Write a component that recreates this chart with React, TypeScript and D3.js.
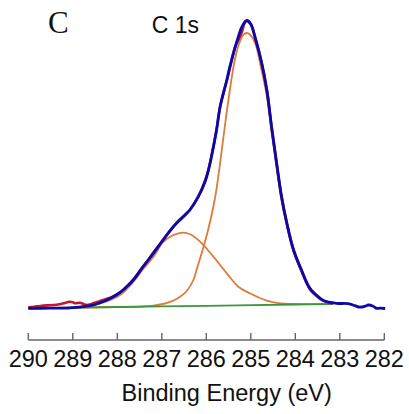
import React from "react";
import * as d3 from "d3";

// Binding energy (eV) / intensity (a.u.) readings
const ticks = [290, 289, 288, 287, 286, 285, 284, 283, 282];

const dataEnergy = [290.0, 289.87, 289.73, 289.58, 289.43, 289.3, 289.21, 289.07, 289.0, 288.95, 288.84, 288.76, 288.69, 288.58, 288.43, 288.28, 288.13, 287.94, 287.83, 287.64, 287.42, 287.3, 287.19, 287.05, 286.97, 286.85, 286.74, 286.62, 286.55, 286.45, 286.37, 286.18, 286.03, 285.95, 285.88, 285.77, 285.69, 285.54, 285.47, 285.36, 285.28, 285.2, 285.14, 285.09, 285.0, 284.9, 284.76, 284.64, 284.53, 284.42, 284.31, 284.19, 284.04, 283.86, 283.67, 283.55, 283.44, 283.3, 283.15];
const dataIntensity = [2.7, 3.2, 4.0, 4.6, 5.0, 5.8, 6.7, 8.3, 7.8, 6.7, 7.3, 6.0, 5.0, 6.0, 8.3, 10.5, 12.8, 17.5, 21.8, 30.5, 43.5, 50.5, 57.5, 65.5, 70.5, 77.5, 83.5, 89.5, 92.5, 96.5, 100, 113.3, 129, 141, 155, 180, 203, 229, 242, 262, 270, 278, 287, 289, 285.5, 272, 248, 220.5, 182, 147, 114, 87, 60.5, 39, 20.5, 15, 11, 8, 6.5];

const fitEnergy = [290.0, 289.51, 289.06, 288.69, 288.5, 288.31, 288.12, 287.94, 287.83, 287.64, 287.42, 287.19, 286.97, 286.74, 286.55, 286.37, 286.18, 286.03, 285.95, 285.88, 285.77, 285.69, 285.54, 285.47, 285.28, 285.19, 285.09, 285.0, 284.9, 284.76, 284.64, 284.53, 284.42, 284.31, 284.19, 284.04, 283.86, 283.67, 283.44, 283.37, 283.07, 282.81, 282.66, 282.55, 282.43, 282.36, 282.25, 282.17, 282.1, 281.98];
const fitIntensity = [1.7, 1.8, 2.2, 3.8, 5.5, 8.5, 12.5, 17.5, 21.5, 30, 43.3, 56.7, 70, 83.3, 91.7, 100, 113.3, 128, 140, 154, 180, 203.3, 230, 243.3, 273.3, 284, 289.5, 286, 272, 248, 220, 182, 146.7, 113.3, 86.7, 60, 40, 21.7, 11.7, 9.5, 6.7, 6.3, 4.3, 2.8, 3.8, 5.0, 3.8, 1.6, 1.8, 1.5];

const peakMainEnergy = [290.0, 288.39, 287.49, 287.19, 286.97, 286.8, 286.67, 286.55, 286.44, 286.29, 286.22, 286.07, 285.96, 285.8, 285.69, 285.58, 285.47, 285.36, 285.25, 285.17, 285.09, 285.01, 284.9, 284.76, 284.64, 284.53, 284.42, 284.31, 284.19, 284.04, 283.86, 283.67, 283.44, 283.15];
const peakMainIntensity = [1.7, 2.7, 3.4, 4.4, 6.0, 8.3, 11.0, 14.5, 19, 30, 40, 62, 80, 113, 147, 185, 220, 250, 268, 275, 277, 275, 266.7, 240, 214, 177, 142.5, 110, 84, 58, 38, 21, 11, 6.5];

const peakSecondEnergy = [290.0, 289.06, 288.69, 288.31, 287.94, 287.64, 287.42, 287.19, 286.97, 286.74, 286.64, 286.52, 286.41, 286.33, 286.1, 285.84, 285.54, 285.28, 285.02, 284.64, 284.34, 284.04, 283.67, 283.15];
const peakSecondIntensity = [1.8, 2.3, 3.5, 7.5, 15, 28, 41, 53, 68, 75, 76.5, 77.3, 76.5, 75, 66.7, 53.3, 36.7, 23.3, 16.7, 9.3, 6.7, 6.0, 5.8, 6.0];

const backgroundEnergy = [290.0, 288.0, 286.0, 284.0, 283.15];
const backgroundIntensity = [1.7, 3.0, 4.2, 5.5, 6.0];

const zip = (xs: number[], ys: number[]) => xs.map((x, i) => ({ e: x, v: ys[i] }));

export default function App() {
  const W = 409, H = 414;
  const x = d3.scaleLinear().domain([290, 282]).range([28.3, 384.3]);
  const y = d3.scaleLinear().domain([0, 300]).range([310, 10]);
  const line = d3
    .line<{ e: number; v: number }>()
    .x((d) => x(d.e))
    .y((d) => y(d.v))
    .curve(d3.curveCatmullRom.alpha(0.5));

  const axisY = 340;
  const sans = "'Liberation Sans', Arial, sans-serif";

  return (
    <svg
      width={W}
      height={H}
      style={{ position: "absolute", left: 0, top: 0, background: "#fff" }}
    >
      <rect width={W} height={H} fill="#fff" />
      <path d={line(zip(peakMainEnergy, peakMainIntensity)) || ""} fill="none" stroke="#dd7a3c" strokeWidth={1.8} />
      <path d={line(zip(peakSecondEnergy, peakSecondIntensity)) || ""} fill="none" stroke="#dd7a3c" strokeWidth={1.8} />
      <path d={line(zip(backgroundEnergy, backgroundIntensity)) || ""} fill="none" stroke="#3c963c" strokeWidth={1.8} />
      <path d={line(zip(dataEnergy, dataIntensity)) || ""} fill="none" stroke="#c8142c" strokeWidth={2.6} />
      <path d={line(zip(fitEnergy, fitIntensity)) || ""} fill="none" stroke="#0a0aa8" strokeWidth={2.8} />

      <line x1={x(290)} x2={x(282)} y1={axisY} y2={axisY} stroke="#666" strokeWidth={1.4} />
      {ticks.map((t) => (
        <g key={t}>
          <line x1={x(t)} x2={x(t)} y1={axisY} y2={axisY - 7} stroke="#666" strokeWidth={1.4} />
          <text x={x(t)} y={367} textAnchor="middle" fontFamily={sans} fontSize={23.5} fill="#111">
            {t}
          </text>
        </g>
      ))}
      <text x={226.7} y={401} textAnchor="middle" fontFamily={sans} fontSize={23.5} fill="#111">
        Binding Energy (eV)
      </text>
      <text x={48} y={33.3} fontFamily="'Liberation Serif', 'Times New Roman', serif" fontSize={31} fill="#111">
        C
      </text>
      <text x={151.7} y={33.3} fontFamily={sans} fontSize={23} fill="#111">
        C 1s
      </text>
    </svg>
  );
}
